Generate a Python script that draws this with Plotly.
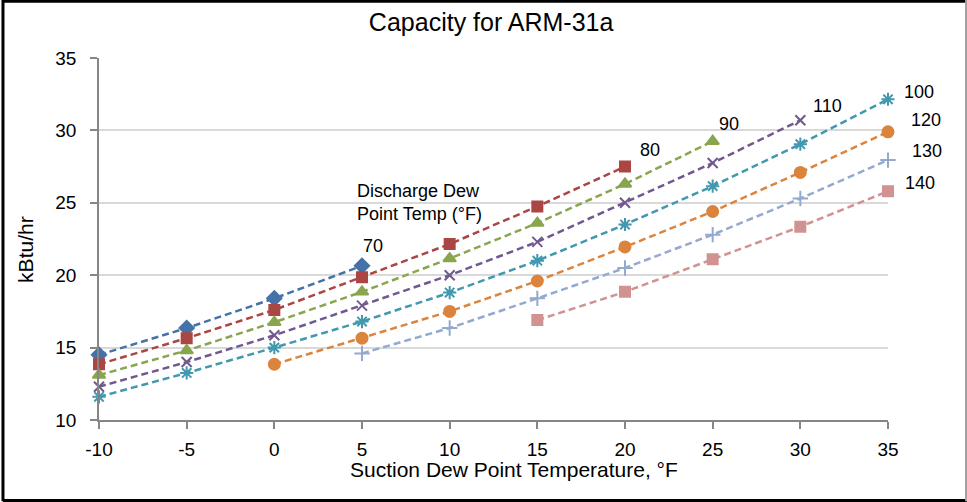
import plotly.graph_objects as go

# suction dew point temperature, °F
suction_temps = [-10, -5, 0, 5, 10, 15, 20, 25, 30, 35]
suction_tick_labels = ["-10", "-5", "0", "5", "10", "15", "20", "25", "30", "35"]

# capacity in kBtu/hr, one list per discharge dew point curve (label as printed on the chart)
cap_70 = [14.5, 16.35, 18.4, 20.65]
cap_80 = [13.85, 15.65, 17.6, 19.85, 22.15, 24.75, 27.5]
cap_90 = [13.1, 14.8, 16.75, 18.85, 21.15, 23.6, 26.3, 29.25]
cap_110 = [12.3, 14.0, 15.85, 17.9, 20.0, 22.3, 25.0, 27.75, 30.7]
cap_100 = [11.6, 13.25, 15.0, 16.8, 18.8, 21.0, 23.5, 26.15, 29.05, 32.15]
cap_120 = [13.85, 15.65, 17.5, 19.6, 21.95, 24.4, 27.1, 29.9]
cap_130 = [14.6, 16.35, 18.4, 20.5, 22.8, 25.3, 27.95]
cap_140 = [16.9, 18.85, 21.1, 23.35, 25.8]

# first suction temp for each curve
start_70, start_80, start_90, start_110 = -10, -10, -10, -10
start_100, start_120, start_130, start_140 = -10, 0, 5, 15

curves = [
    ("70", start_70, cap_70, "#4572A7", "diamond", 11, (11, 20)),
    ("80", start_80, cap_80, "#AA4643", "square", 10, (25, 17)),
    ("90", start_90, cap_90, "#89A54E", "triangle-up", 11, (16, 17)),
    ("110", start_110, cap_110, "#71588F", "x-thin-open", 10, (27, 14)),
    ("100", start_100, cap_100, "#4198AF", "asterisk-open", 11, (31, 7)),
    ("120", start_120, cap_120, "#DB843D", "circle", 11, (38, 12)),
    ("130", start_130, cap_130, "#93A9CF", "cross-thin-open", 11, (39, 9)),
    ("140", start_140, cap_140, "#D19392", "square", 10, (32, 8)),
]

FONT = "Liberation Sans"
AXIS_GRAY = "#868686"

fig = go.Figure()
annotations = []
for label, start, caps, color, symbol, size, (dx, dy) in curves:
    i0 = suction_temps.index(start)
    xs = suction_temps[i0:i0 + len(caps)]
    fig.add_trace(
        go.Scatter(
            x=xs,
            y=caps,
            name=label,
            mode="lines+markers",
            cliponaxis=False,
            line={"color": color, "width": 2.5, "dash": "7px,4px"},
            marker={"symbol": symbol, "size": size, "color": color,
                    "line": {"color": color, "width": 2}},
        )
    )
    annotations.append(
        dict(x=xs[-1], y=caps[-1], xref="x", yref="y", text=label, showarrow=False,
             xshift=dx, yshift=dy, font={"size": 18, "color": "black", "family": FONT})
    )

annotations += [
    dict(x=4.6, y=25.05, xref="x", yref="y", xanchor="left", yanchor="middle", align="left",
         text="Discharge Dew<br>Point Temp (°F)", showarrow=False,
         font={"size": 18, "color": "black", "family": FONT}),
    dict(x=0.526, y=-0.138, xref="paper", yref="paper", xanchor="center", yanchor="middle",
         text="Suction Dew Point Temperature, °F", showarrow=False,
         font={"size": 21, "color": "black", "family": FONT}),
    dict(x=-0.0925, y=0.47, xref="paper", yref="paper", xanchor="center", yanchor="middle",
         textangle=-90, text="kBtu/hr", showarrow=False,
         font={"size": 21, "color": "black", "family": FONT}),
]

# chart border (black left/top/bottom, grey right edge)
border = [
    dict(type="line", xref="paper", yref="paper", x0=-0.1217, x1=-0.1217, y0=-0.2245, y1=1.16,
         line={"color": "black", "width": 3}),
    dict(type="line", xref="paper", yref="paper", x0=-0.1217, x1=1.1, y0=1.157, y1=1.157,
         line={"color": "black", "width": 3}),
    dict(type="line", xref="paper", yref="paper", x0=-0.1217, x1=1.1, y0=-0.2225, y1=-0.2225,
         line={"color": "black", "width": 3}),
    dict(type="line", xref="paper", yref="paper", x0=1.0989, x1=1.0989, y0=-0.2245, y1=1.16,
         line={"color": "#A0A0A0", "width": 2}),
]

fig.update_layout(
    width=967,
    height=502,
    margin={"l": 99, "r": 79, "t": 58, "b": 82},
    paper_bgcolor="white",
    plot_bgcolor="white",
    showlegend=False,
    font={"family": FONT, "color": "black"},
    title={"text": "Capacity for ARM-31a", "x": 0.497, "xref": "paper", "y": 0.956,
           "yanchor": "middle", "font": {"size": 25, "family": FONT, "color": "black"}},
    annotations=annotations,
    shapes=border,
)
fig.update_xaxes(
    range=[-10, 35], tickvals=suction_temps, ticktext=suction_tick_labels,
    showgrid=False, zeroline=False,
    showline=True, linecolor=AXIS_GRAY, linewidth=1.5,
    ticks="outside", ticklen=7, tickcolor=AXIS_GRAY, tickwidth=1.5,
    tickfont={"size": 19, "family": FONT, "color": "black"}, ticklabelstandoff=4,
)
fig.update_yaxes(
    range=[10, 35], dtick=5, showgrid=True, gridcolor="#D9D9D9", gridwidth=1.5, zeroline=False,
    showline=True, linecolor=AXIS_GRAY, linewidth=1.5,
    ticks="outside", ticklen=7, tickcolor=AXIS_GRAY, tickwidth=1.5,
    tickfont={"size": 19, "family": FONT, "color": "black"}, ticklabelstandoff=10,
)

fig.write_html(
    "out.html",
    config={"displayModeBar": False},
    post_script="document.body.style.margin = '0';",
)
